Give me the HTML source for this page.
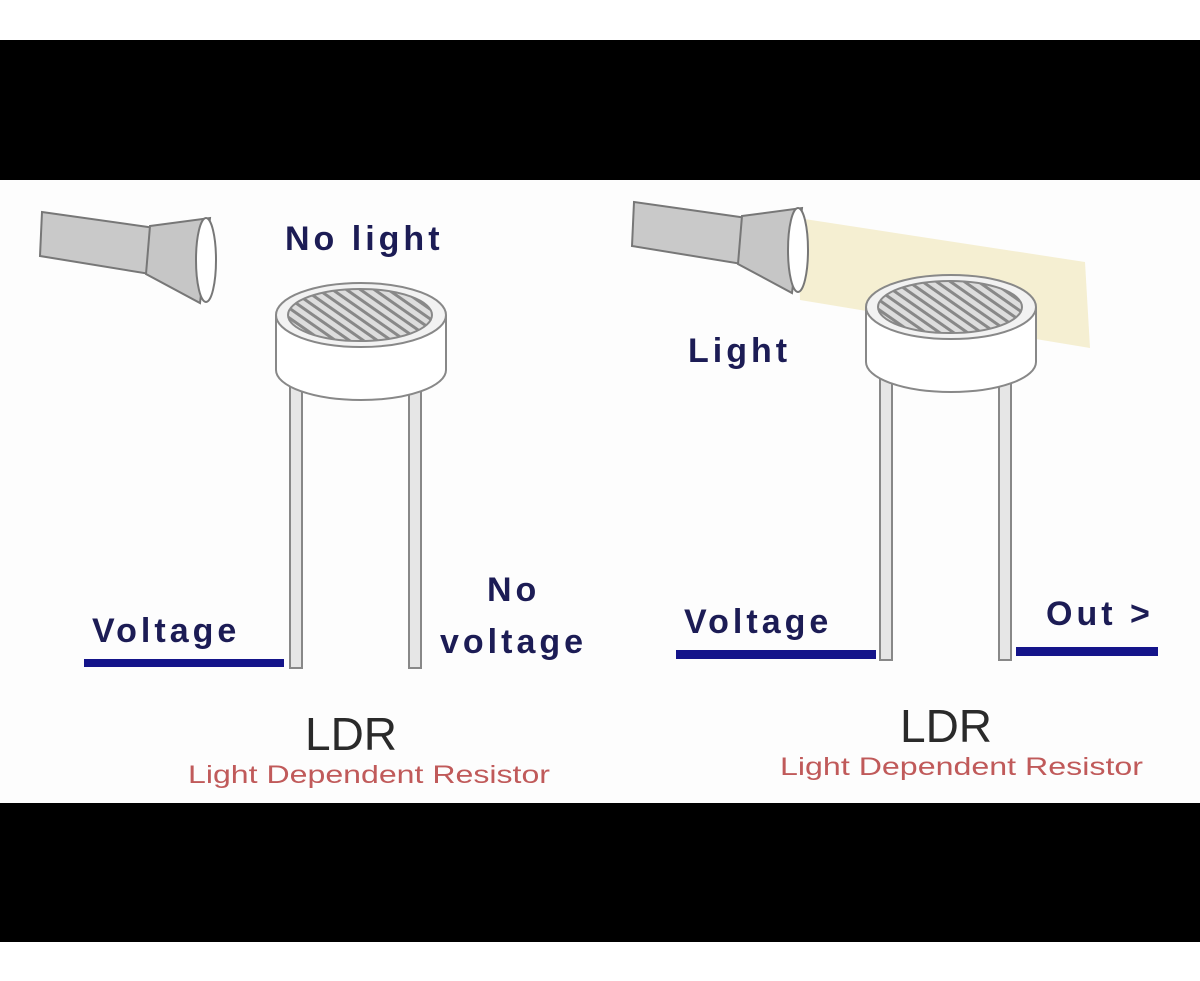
<!DOCTYPE html>
<html><head><meta charset="utf-8"><style>
html,body{margin:0;padding:0;background:#fff;}
svg{display:block}
text{font-family:"Liberation Sans",sans-serif}
.b{font-weight:bold;fill:#1c1c55;letter-spacing:4px}
</style></head><body>
<svg width="1200" height="981" viewBox="0 0 1200 981" xmlns="http://www.w3.org/2000/svg">
<defs>
<pattern id="h" width="8" height="8" patternUnits="userSpaceOnUse" patternTransform="rotate(-55)">
<rect width="8" height="8" fill="#ddd"/><rect width="3" height="8" fill="#888"/>
</pattern>
<g id="fl">
<polygon points="42,212 155,228 150,274 40,256" fill="#c9c9c9" stroke="#777" stroke-width="2"/>
<polygon points="150,226 210,218 200,303 146,274" fill="#c6c6c6" stroke="#777" stroke-width="2"/>
<ellipse cx="206" cy="260" rx="10" ry="42" fill="#fff" stroke="#777" stroke-width="2"/>
</g>
<g id="ldr">
<rect x="290" y="380" width="12" height="288" fill="#e6e6e6" stroke="#888" stroke-width="2"/>
<rect x="409" y="380" width="12" height="288" fill="#e6e6e6" stroke="#888" stroke-width="2"/>
<path d="M276,315 L276,370 A85,30 0 0 0 446,370 L446,315" fill="#fff" stroke="#888" stroke-width="2"/>
<ellipse cx="361" cy="315" rx="85" ry="32" fill="#f2f2f2" stroke="#888" stroke-width="2"/>
<ellipse cx="360" cy="315" rx="72" ry="26" fill="url(#h)" stroke="#888" stroke-width="2"/>
</g>
</defs>
<rect x="0" y="40" width="1200" height="140" fill="#000"/>
<rect x="0" y="803" width="1200" height="139" fill="#000"/>
<rect x="0" y="180" width="1200" height="623" fill="#fdfdfd"/>

<!-- left -->
<use href="#fl"/>
<use href="#ldr"/>
<text x="285" y="250" class="b" font-size="34" letter-spacing="5">No light</text>
<text x="92" y="642" class="b" font-size="34" letter-spacing="2.5">Voltage</text>
<rect x="84" y="659" width="200" height="8" fill="#14148a"/>
<text x="487" y="601" class="b" font-size="34">No</text>
<text x="440" y="653" class="b" font-size="34" letter-spacing="4.5">voltage</text>
<text x="305" y="750" font-size="46" fill="#2a2a2a">LDR</text>
<text x="188" y="783" font-size="25" fill="#c05a5a" textLength="362" lengthAdjust="spacingAndGlyphs">Light Dependent Resistor</text>

<!-- right -->
<polygon points="798,218 1085,262 1090,348 800,300" fill="#f5efd2"/>
<use href="#fl" transform="translate(592,-10)"/>
<use href="#ldr" transform="translate(590,-8)"/>
<text x="688" y="362" class="b" font-size="34" letter-spacing="5">Light</text>
<text x="684" y="633" class="b" font-size="34" letter-spacing="2.5">Voltage</text>
<rect x="676" y="650" width="200" height="9" fill="#14148a"/>
<text x="1046" y="625" class="b" font-size="34" letter-spacing="3.5">Out &gt;</text>
<rect x="1016" y="647" width="142" height="9" fill="#14148a"/>
<text x="900" y="742" font-size="46" fill="#2a2a2a">LDR</text>
<text x="780" y="775" font-size="25" fill="#c05a5a" textLength="363" lengthAdjust="spacingAndGlyphs">Light Dependent Resistor</text>
</svg>
</body></html>
